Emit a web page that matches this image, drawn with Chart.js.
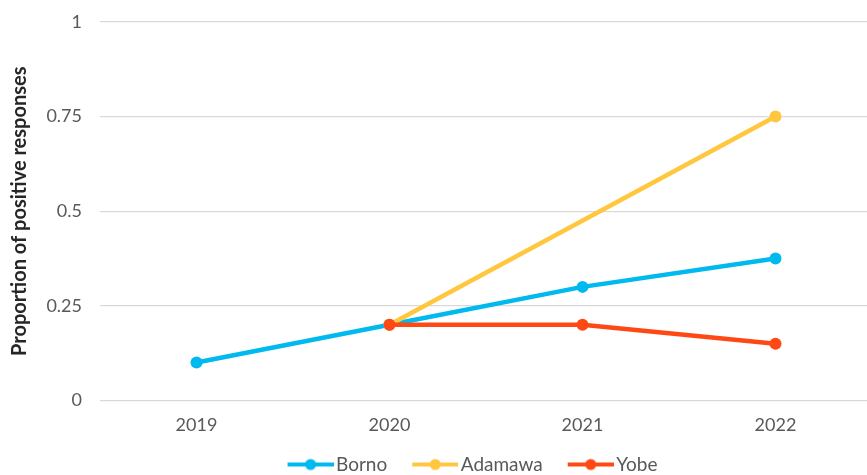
<!DOCTYPE html>
<html>
<head>
<meta charset="utf-8">
<script src="https://cdn.jsdelivr.net/npm/chart.js@4"></script>
<style>
  body { margin:0; overflow:hidden; background:#fff; }
</style>
</head>
<body>
<canvas id="chart" width="932" height="499"></canvas>
<script>
const years = ["2019", "2020", "2021", "2022"];
const borno = [0.1, 0.2, 0.3, 0.375];
const adamawa = [null, 0.2, null, 0.75];
const yobe = [null, 0.2, 0.2, 0.15];
const yTicks = [0, 0.25, 0.5, 0.75, 1];

const FONT = "Lato";

// legend marker: line with a dot, sitting at the right of a wider image
function marker(color){
  const c = document.createElement("canvas");
  c.width = 58; c.height = 14;
  const g = c.getContext("2d");
  const x0 = 12;
  g.strokeStyle = color;
  g.lineWidth = 4;
  g.beginPath(); g.moveTo(x0, 7); g.lineTo(x0 + 46, 7); g.stroke();
  g.fillStyle = color;
  g.beginPath(); g.arc(x0 + 23, 7, 5.5, 0, Math.PI*2); g.fill();
  return c;
}

function series(label, data, color, order){
  return {
    label, data, order,
    borderColor: color,
    backgroundColor: color,
    borderWidth: 4.5,
    pointRadius: 6,
    pointHoverRadius: 6,
    pointBorderWidth: 0,
    pointStyle: "circle",
    spanGaps: true,
    tension: 0,
    legendMarker: marker(color)
  };
}

// move legend to match the reference position
const legendShift = {
  id: "legendShift",
  afterLayout(chart){
    const l = chart.legend;
    l.left += 34; l.right += 34;
    l.top -= 15; l.bottom -= 15;
  }
};

new Chart(document.getElementById("chart"), {
  type: "line",
  data: {
    labels: years,
    datasets: [
      series("Borno", borno, "#00B9EE", 3),
      series("Adamawa", adamawa, "#FFC73E", 2),
      series("Yobe", yobe, "#FF4915", 1)
    ]
  },
  plugins: [legendShift],
  options: {
    responsive: false,
    animation: false,
    layout: { padding: { top: 22, right: 60, left: 0, bottom: 0 } },
    plugins: {
      tooltip: { enabled: false },
      legend: {
        position: "bottom",
        labels: {
          usePointStyle: true,
          pointStyleWidth: 44,
          padding: 20,
          color: "#595959",
          font: { family: FONT, size: 19 },
          generateLabels(chart){
            return chart.data.datasets.map((d, i) => ({
              text: d.label,
              pointStyle: d.legendMarker,
              fillStyle: d.borderColor,
              strokeStyle: d.borderColor,
              lineWidth: 0,
              fontColor: "#595959",
              datasetIndex: i
            }));
          }
        }
      }
    },
    scales: {
      x: {
        offset: true,
        grid: { display: false, drawTicks: false },
        border: { display: false },
        ticks: { color: "#595959", padding: 14, font: { family: FONT, size: 18 } }
      },
      y: {
        min: 0, max: 1,
        afterBuildTicks(scale){ scale.ticks = yTicks.map(v => ({ value: v })); },
        afterFit(scale){
          scale.width = 100;
          scale.paddingTop = 0;
          scale.paddingBottom = 0;
        },
        grid: { color: "#D9D9D9", lineWidth: 1.3, drawTicks: false },
        border: { display: false },
        ticks: {
          color: "#595959", padding: 18,
          font: { family: FONT, size: 18 },
          callback: v => String(v)
        },
        title: {
          display: true,
          text: "Proportion of positive responses",
          color: "#262626",
          padding: { top: 8, bottom: 0 },
          font: { family: FONT, size: 20, weight: "bold" }
        }
      }
    }
  }
});
</script>
</body>
</html>
